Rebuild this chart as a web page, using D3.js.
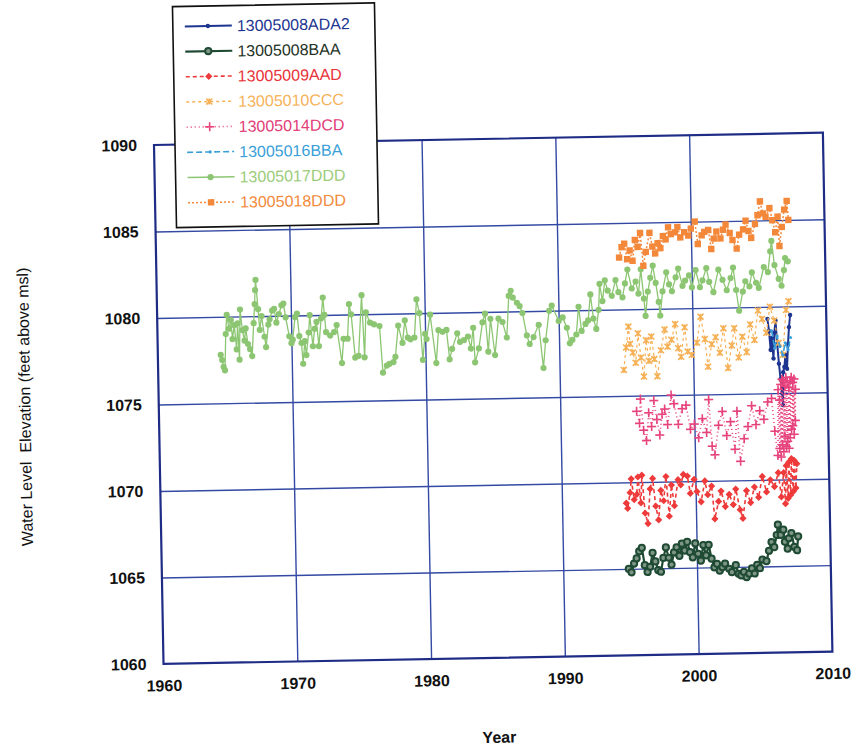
<!DOCTYPE html>
<html>
<head>
<meta charset="utf-8">
<script src="https://cdn.jsdelivr.net/npm/d3@7"></script>
<style>
  body { margin: 0; background: #fff; }
  text { font-family: "Liberation Sans", Arial, sans-serif; }
</style>
</head>
<body>
<script>
var svgWidth = 857;
var svgHeight = 749;

// the scanned page is slightly tilted, so the whole chart is rotated a little
var margin = { top: 145, left: 154 };
var chartWidth = 669;
var chartHeight = 519;
var tilt = -1.05;

var xTicks = [1960, 1970, 1980, 1990, 2000, 2010];
var yTicks = [1060, 1065, 1070, 1075, 1080, 1085, 1090];

var wellNames = ["13005008ADA2", "13005008BAA", "13005009AAD", "13005010CCC",
                 "13005014DCD", "13005016BBA", "13005017DDD", "13005018DDD"];

// [year, water level]
var ada2 = [[2005.6,1079.3],[2005.7,1078.6],[2005.8,1077.5],[2005.9,1078.2],[2006.0,1077.0],[2006.1,1078.5],
  [2006.2,1079.2],[2006.3,1077.8],[2006.4,1076.7],[2006.5,1075.8],[2006.6,1075.0],[2006.65,1074.3],
  [2006.7,1076.2],[2006.8,1076.5],[2006.9,1077.2],[2007.0,1076.4],[2007.1,1077.8],[2007.2,1078.8],[2007.3,1079.5]];

var baa = [[1994.9,1065.0],[1995.1,1064.8],[1995.3,1065.3],[1995.5,1065.6],[1995.7,1066.0],[1995.9,1066.2],
  [1996.1,1065.2],[1996.3,1064.8],[1996.5,1065.1],[1996.7,1065.9],[1996.9,1065.4],[1997.1,1064.9],
  [1997.3,1064.8],[1997.5,1065.6],[1997.7,1066.2],[1997.9,1065.6],[1998.1,1065.2],[1998.3,1065.9],
  [1998.5,1066.2],[1998.7,1065.7],[1998.9,1066.4],[1999.1,1066.0],[1999.3,1066.5],[1999.5,1065.9],
  [1999.7,1065.6],[1999.9,1066.4],[2000.1,1065.8],[2000.3,1065.4],[2000.5,1066.3],[2000.7,1065.7],
  [2000.9,1066.3],[2001.1,1065.5],[2001.3,1065.0],[2001.5,1065.2],[2001.7,1064.8],[2001.9,1065.0],
  [2002.1,1065.2],[2002.4,1064.9],[2002.6,1064.7],[2002.9,1065.1],[2003.1,1064.6],[2003.3,1064.5],
  [2003.5,1064.7],[2003.7,1064.4],[2003.9,1064.6],[2004.1,1064.9],[2004.3,1064.6],[2004.5,1065.1],
  [2004.7,1064.9],[2004.9,1065.4],[2005.2,1065.3],[2005.4,1065.9],[2005.6,1066.4],[2005.8,1066.1],
  [2006.0,1066.8],[2006.1,1067.4],[2006.3,1066.8],[2006.5,1067.1],[2006.6,1066.4],[2006.8,1066.0],
  [2006.9,1066.6],[2007.1,1066.9],[2007.3,1066.1],[2007.5,1065.9],[2007.6,1066.7]];

var aad = [[1994.8,1068.8],[1994.9,1068.5],[1995.1,1069.4],[1995.2,1070.2],[1995.4,1069.0],[1995.6,1069.3],
  [1995.7,1070.3],[1995.9,1068.8],[1996.0,1070.4],[1996.2,1068.2],[1996.4,1067.6],[1996.6,1069.6],
  [1996.8,1070.2],[1997.0,1068.6],[1997.2,1067.8],[1997.4,1069.5],[1997.6,1068.9],[1997.8,1070.3],
  [1998.0,1068.0],[1998.2,1069.8],[1998.4,1068.6],[1998.7,1070.1],[1998.9,1069.8],[1999.1,1070.4],
  [1999.4,1070.3],[1999.6,1069.3],[1999.9,1070.1],[2000.1,1069.4],[2000.4,1068.8],[2000.7,1070.0],
  [2000.9,1069.2],[2001.2,1069.7],[2001.4,1067.8],[2001.7,1068.8],[2001.9,1069.4],[2002.2,1068.5],
  [2002.5,1069.2],[2002.8,1068.6],[2003.0,1069.5],[2003.3,1068.3],[2003.5,1067.8],[2003.8,1069.4],
  [2004.1,1068.7],[2004.4,1069.6],[2004.7,1069.0],[2005.0,1070.2],[2005.3,1069.3],[2005.6,1070.0],
  [2005.9,1069.6],[2006.2,1070.4],[2006.4,1069.0],[2006.6,1070.4],[2006.7,1068.6],[2006.8,1070.8],
  [2006.9,1068.9],[2007.0,1071.0],[2007.1,1069.1],[2007.2,1071.2],[2007.3,1069.3],[2007.4,1071.1],
  [2007.5,1069.5],[2007.6,1070.9]];

var ccc = [[1994.8,1076.5],[1995.0,1077.8],[1995.2,1079.0],[1995.3,1078.0],[1995.5,1077.5],[1995.7,1076.9],
  [1995.9,1078.6],[1996.1,1077.2],[1996.3,1076.1],[1996.5,1078.2],[1996.7,1077.0],[1996.9,1078.4],
  [1997.1,1077.1],[1997.3,1076.1],[1997.6,1077.6],[1997.9,1078.8],[1998.1,1077.8],[1998.4,1078.2],
  [1998.7,1079.1],[1998.9,1077.7],[1999.1,1077.2],[1999.4,1078.9],[1999.6,1077.5],[1999.9,1077.3],
  [2000.3,1078.0],[2000.6,1079.5],[2000.9,1078.2],[2001.1,1076.6],[2001.4,1077.9],[2001.7,1078.3],
  [2002.0,1077.4],[2002.3,1078.8],[2002.6,1076.5],[2002.9,1077.8],[2003.1,1078.8],[2003.4,1077.1],
  [2003.7,1078.3],[2004.0,1077.4],[2004.3,1079.0],[2004.6,1078.1],[2004.9,1079.8],[2005.2,1079.3],
  [2005.5,1078.5],[2005.8,1080.0],[2006.1,1079.2],[2006.4,1077.9],[2006.7,1077.2],[2007.0,1079.8],[2007.2,1080.3]];

var dcd = [[1995.7,1074.1],[1995.9,1073.4],[1996.0,1074.8],[1996.2,1073.0],[1996.4,1072.4],[1996.6,1074.0],
  [1996.8,1073.2],[1997.0,1074.7],[1997.2,1073.6],[1997.4,1072.7],[1997.6,1073.9],[1997.8,1074.2],
  [1998.0,1073.3],[1998.3,1075.0],[1998.5,1074.5],[1998.8,1073.3],[1999.1,1074.2],[1999.4,1074.4],
  [1999.7,1073.0],[2000.0,1073.3],[2000.3,1072.5],[2000.6,1073.6],[2000.9,1072.8],[2001.1,1074.7],
  [2001.3,1072.0],[2001.5,1071.5],[2001.8,1073.2],[2002.1,1074.0],[2002.4,1072.6],[2002.7,1073.4],
  [2003.0,1071.8],[2003.2,1074.0],[2003.4,1071.1],[2003.7,1072.4],[2004.0,1073.1],[2004.3,1074.3],
  [2004.6,1073.2],[2004.9,1074.0],[2005.2,1073.5],[2005.5,1074.5],[2005.8,1074.7],[2006.0,1072.8],
  [2006.2,1071.4],[2006.3,1075.2],[2006.35,1071.8],[2006.4,1074.6],[2006.45,1071.3],[2006.5,1075.5],
  [2006.55,1072.0],[2006.6,1075.8],[2006.65,1071.6],[2006.7,1075.7],[2006.75,1072.5],[2006.8,1075.4],
  [2006.85,1071.9],[2006.9,1075.9],[2006.95,1072.2],[2007.0,1075.6],[2007.05,1071.8],[2007.1,1075.3],
  [2007.15,1072.4],[2007.2,1075.7],[2007.25,1072.9],[2007.3,1075.9],[2007.35,1073.1],[2007.4,1075.6],
  [2007.45,1072.6],[2007.5,1075.8],[2007.55,1073.4],[2007.6,1075.2]];

var bba = [[2005.9,1078.6],[2006.1,1077.6],[2006.3,1078.3],[2006.5,1077.7],[2006.7,1077.2],
  [2006.9,1077.9],[2007.1,1077.5],[2007.3,1078.2]];

var ddd17 = [[1964.7,1077.8],[1964.8,1077.5],[1964.9,1077.1],[1965.0,1076.9],[1965.1,1079.0],[1965.2,1080.1],
  [1965.35,1079.3],[1965.5,1079.8],[1965.6,1078.7],[1965.75,1079.5],[1965.9,1078.1],[1966.0,1079.6],
  [1966.1,1077.5],[1966.2,1080.4],[1966.35,1079.2],[1966.5,1078.6],[1966.6,1079.3],[1966.75,1078.4],
  [1966.9,1078.1],[1967.05,1077.7],[1967.2,1079.6],[1967.3,1080.7],[1967.35,1081.5],[1967.4,1082.1],
  [1967.55,1080.4],[1967.65,1079.2],[1967.8,1080.0],[1968.0,1078.8],[1968.1,1078.2],[1968.3,1079.5],
  [1968.4,1079.8],[1968.6,1080.3],[1968.75,1080.4],[1968.9,1079.6],[1969.1,1080.1],[1969.3,1080.6],
  [1969.45,1080.7],[1969.6,1079.9],[1969.85,1078.8],[1970.0,1078.4],[1970.1,1078.6],[1970.3,1079.9],
  [1970.45,1080.1],[1970.6,1078.8],[1970.75,1078.4],[1970.85,1077.2],[1971.0,1078.5],[1971.1,1077.7],
  [1971.3,1079.0],[1971.4,1080.0],[1971.6,1078.2],[1971.75,1079.2],[1971.9,1079.6],[1972.05,1078.2],
  [1972.25,1079.8],[1972.4,1081.0],[1972.5,1080.0],[1972.6,1079.0],[1972.9,1078.8],[1973.2,1079.0],
  [1973.4,1079.4],[1973.75,1077.2],[1973.9,1078.6],[1974.2,1078.6],[1974.35,1080.6],[1974.5,1080.0],
  [1974.75,1077.5],[1975.0,1077.6],[1975.3,1081.1],[1975.45,1077.5],[1975.6,1080.1],[1975.9,1079.5],
  [1976.2,1079.4],[1976.6,1079.3],[1976.8,1076.6],[1977.1,1077.0],[1977.3,1077.1],[1977.6,1077.2],
  [1977.75,1077.5],[1978.0,1079.3],[1978.3,1078.3],[1978.5,1079.6],[1978.7,1078.6],[1978.9,1078.5],
  [1979.2,1078.6],[1979.4,1080.8],[1979.6,1080.0],[1979.8,1077.3],[1980.0,1078.8],[1980.1,1078.5],
  [1980.4,1079.9],[1980.8,1077.1],[1981.0,1079.0],[1981.3,1078.9],[1981.6,1079.0],[1981.8,1077.3],
  [1982.0,1077.9],[1982.4,1078.8],[1982.6,1078.3],[1982.9,1078.4],[1983.2,1078.6],[1983.4,1077.9],
  [1983.6,1079.1],[1983.7,1077.1],[1984.0,1077.9],[1984.3,1079.4],[1984.5,1079.9],[1984.7,1077.7],
  [1984.9,1079.6],[1985.2,1077.5],[1985.5,1079.6],[1985.8,1079.4],[1986.1,1078.5],[1986.3,1080.9],
  [1986.45,1081.2],[1986.6,1080.8],[1986.9,1080.5],[1987.1,1080.3],[1987.3,1079.9],[1987.6,1078.6],
  [1987.8,1078.1],[1988.1,1078.5],[1988.5,1079.2],[1988.8,1076.7],[1989.0,1078.3],[1989.3,1080.0],
  [1989.5,1080.3],[1990.0,1079.4],[1990.3,1079.6],[1990.6,1079.0],[1990.8,1078.1],[1991.0,1078.3],
  [1991.3,1078.6],[1991.5,1080.2],[1991.7,1078.8],[1992.0,1079.2],[1992.2,1079.4],[1992.4,1080.9],
  [1992.6,1079.5],[1992.8,1078.9],[1993.0,1080.0],[1993.1,1081.5],[1993.3,1080.5],[1993.5,1081.7],
  [1993.7,1081.1],[1994.0,1080.8],[1994.3,1081.7],[1994.5,1081.0],[1994.8,1080.7],[1995.0,1081.5],
  [1995.2,1082.3],[1995.5,1081.2],[1995.8,1081.6],[1996.0,1080.9],[1996.2,1082.3],[1996.4,1080.6],
  [1996.5,1079.6],[1996.7,1081.0],[1996.9,1081.8],[1997.1,1082.5],[1997.3,1081.5],[1997.5,1080.4],
  [1997.6,1079.6],[1997.8,1081.0],[1998.1,1082.1],[1998.3,1081.4],[1998.5,1081.0],[1998.8,1081.8],
  [1999.0,1082.3],[1999.3,1081.3],[1999.5,1081.6],[1999.8,1081.9],[2000.0,1081.2],[2000.3,1082.2],
  [2000.6,1081.2],[2000.8,1081.6],[2001.1,1082.3],[2001.3,1081.5],[2001.6,1080.9],[2002.0,1082.2],
  [2002.3,1081.6],[2002.6,1081.0],[2002.9,1081.7],[2003.1,1082.3],[2003.3,1081.0],[2003.5,1079.8],
  [2003.8,1080.9],[2004.0,1081.5],[2004.3,1081.2],[2004.5,1082.0],[2004.8,1081.4],[2005.0,1081.1],
  [2005.4,1082.3],[2005.7,1082.0],[2005.9,1083.2],[2006.0,1083.8],[2006.2,1082.4],[2006.5,1081.6],
  [2006.7,1081.2],[2006.9,1082.1],[2007.0,1082.8],[2007.2,1082.6]];

var ddd18 = [[1994.6,1083.0],[1994.8,1083.6],[1995.0,1083.8],[1995.2,1082.9],[1995.4,1083.4],[1995.6,1082.8],
  [1995.8,1084.0],[1996.0,1083.6],[1996.2,1084.4],[1996.4,1082.5],[1996.6,1083.3],[1996.9,1084.4],
  [1997.1,1083.6],[1997.3,1083.2],[1997.5,1083.8],[1997.7,1083.5],[1997.9,1084.2],[1998.1,1084.0],
  [1998.3,1084.7],[1998.5,1084.3],[1998.8,1084.4],[1999.0,1084.7],[1999.2,1084.1],[1999.5,1084.4],
  [1999.8,1084.2],[2000.0,1084.6],[2000.3,1085.0],[2000.5,1083.7],[2000.8,1084.2],[2001.0,1084.4],
  [2001.3,1084.5],[2001.5,1083.4],[2001.7,1084.0],[2001.9,1084.4],[2002.2,1084.0],[2002.4,1084.5],
  [2002.6,1084.8],[2002.9,1084.3],[2003.1,1083.9],[2003.4,1083.4],[2003.6,1084.2],[2003.9,1084.5],
  [2004.1,1085.0],[2004.3,1084.4],[2004.5,1084.0],[2004.8,1084.8],[2005.0,1085.3],[2005.2,1086.1],
  [2005.4,1085.4],[2005.6,1085.2],[2005.9,1085.7],[2006.1,1085.0],[2006.3,1084.3],[2006.5,1085.2],
  [2006.6,1083.5],[2006.8,1084.6],[2007.0,1085.6],[2007.2,1086.1],[2007.3,1085.0]];

// style per well, in legend order
var series = [
  { name: wellNames[0], data: ada2,  color: "#1d3590", text: "#1d3590", dash: null,  width: 2,   symbol: "dot",     size: 2.2 },
  { name: wellNames[1], data: baa,   color: "#1f4a33", text: "#1f3326", dash: null,  width: 2.2, symbol: "ring",    size: 3.1 },
  { name: wellNames[2], data: aad,   color: "#ee3a3a", text: "#e8333a", dash: "4,3", width: 1.6, symbol: "diamond", size: 3.6 },
  { name: wellNames[3], data: ccc,   color: "#f6b157", text: "#f5b35a", dash: "3,3", width: 1.2, symbol: "times",   size: 3   },
  { name: wellNames[4], data: dcd,   color: "#e6427c", text: "#e23d78", dash: "1,3", width: 1.6, symbol: "plus",    size: 4.5 },
  { name: wellNames[5], data: bba,   color: "#3a9fd8", text: "#3a9fd8", dash: "6,3", width: 1.6, symbol: "dot",     size: 1.6 },
  { name: wellNames[6], data: ddd17, color: "#8cc672", text: "#9ccc7a", dash: null,  width: 1.3, symbol: "dot",     size: 3.1 },
  { name: wellNames[7], data: ddd18, color: "#f4883a", text: "#f28a3c", dash: "2,2", width: 1.5, symbol: "square",  size: 3.2 }
];

var svg = d3.select("body")
  .append("svg")
  .attr("width", svgWidth)
  .attr("height", svgHeight);

var chartGroup = svg.append("g")
  .attr("transform", `translate(${margin.left}, ${margin.top}) rotate(${tilt})`);

var xScale = d3.scaleLinear().domain([1960, 2010]).range([0, chartWidth]);
var yScale = d3.scaleLinear().domain([1060, 1090]).range([chartHeight, 0]);

// grid
var gridColor = "#3349a3";
chartGroup.append("g")
  .attr("transform", `translate(0, ${chartHeight})`)
  .call(d3.axisBottom(xScale).tickValues(xTicks.slice(1, -1)).tickSize(-chartHeight).tickFormat(""))
  .call(g => g.select(".domain").remove())
  .call(g => g.selectAll("line").attr("stroke", gridColor).attr("stroke-width", 1.4));
chartGroup.append("g")
  .call(d3.axisLeft(yScale).tickValues(yTicks.slice(1, -1)).tickSize(-chartWidth).tickFormat(""))
  .call(g => g.select(".domain").remove())
  .call(g => g.selectAll("line").attr("stroke", gridColor).attr("stroke-width", 1.4));

chartGroup.append("rect")
  .attr("width", chartWidth)
  .attr("height", chartHeight)
  .attr("fill", "none")
  .attr("stroke", "#1e2c85")
  .attr("stroke-width", 2.2);

// tick labels
chartGroup.append("g")
  .attr("transform", `translate(0, ${chartHeight})`)
  .call(d3.axisBottom(xScale).tickValues(xTicks).tickSize(0).tickPadding(16).tickFormat(d3.format("d")))
  .call(g => g.select(".domain").remove())
  .selectAll("text")
  .attr("font-family", "Liberation Sans, Arial, sans-serif")
  .attr("font-size", 16)
  .attr("font-weight", "bold")
  .attr("fill", "#111");
chartGroup.append("g")
  .call(d3.axisLeft(yScale).tickValues(yTicks).tickSize(0).tickPadding(17).tickFormat(d3.format("d")))
  .call(g => g.select(".domain").remove())
  .selectAll("text")
  .attr("font-family", "Liberation Sans, Arial, sans-serif")
  .attr("font-size", 16)
  .attr("font-weight", "bold")
  .attr("fill", "#111");

// axis titles
chartGroup.append("text")
  .attr("x", chartWidth / 2)
  .attr("y", chartHeight + 85)
  .attr("text-anchor", "middle")
  .attr("font-size", 16)
  .attr("font-weight", "bold")
  .attr("fill", "#111")
  .text("Year");
chartGroup.append("text")
  .attr("transform", `translate(-134, ${chartHeight / 2}) rotate(-90)`)
  .attr("text-anchor", "middle")
  .attr("dy", "0.35em")
  .attr("font-size", 16)
  .attr("fill", "#111")
  .style("white-space", "pre")
  .text("Water Level  Elevation (feet above msl)");

function drawMarker(sel, s) {
  var r = s.size;
  if (s.symbol === "dot") {
    sel.append("circle").attr("r", r).attr("fill", s.color);
  } else if (s.symbol === "ring") {
    sel.append("circle").attr("r", r).attr("fill", "#7d9686").attr("stroke", s.color).attr("stroke-width", 2);
  } else if (s.symbol === "diamond") {
    sel.append("path").attr("d", `M0,${-r}L${r},0L0,${r}L${-r},0Z`).attr("fill", s.color);
  } else if (s.symbol === "square") {
    sel.append("rect").attr("x", -r).attr("y", -r).attr("width", 2 * r).attr("height", 2 * r).attr("fill", s.color);
  } else if (s.symbol === "plus") {
    sel.append("path").attr("d", `M${-r},0H${r}M0,${-r}V${r}`).attr("stroke", s.color).attr("stroke-width", 1.6);
  } else if (s.symbol === "times") {
    sel.append("path").attr("d", `M${-r},${-r}L${r},${r}M${-r},${r}L${r},${-r}M0,${-r}V${r}`)
      .attr("stroke", s.color).attr("stroke-width", 1.6);
  }
}

var line = d3.line()
  .x(d => xScale(d[0]))
  .y(d => yScale(d[1]));

series.forEach(function(s) {
  var g = chartGroup.append("g");
  g.append("path")
    .datum(s.data)
    .attr("d", line)
    .attr("fill", "none")
    .attr("stroke", s.color)
    .attr("stroke-width", s.width)
    .attr("stroke-dasharray", s.dash);
  g.selectAll("g.pt")
    .data(s.data)
    .enter()
    .append("g")
    .attr("class", "pt")
    .attr("transform", d => `translate(${xScale(d[0])}, ${yScale(d[1])})`)
    .each(function() { drawMarker(d3.select(this), s); });
});

// legend
var legend = chartGroup.append("g")
  .attr("transform", "translate(21, -138)");
legend.append("rect")
  .attr("width", 202)
  .attr("height", 221)
  .attr("fill", "#fff")
  .attr("stroke", "#111")
  .attr("stroke-width", 1.6);

var rows = legend.selectAll("g.row")
  .data(series)
  .enter()
  .append("g")
  .attr("class", "row")
  .attr("transform", (d, i) => `translate(0, ${20 + i * 25.2})`);
rows.append("line")
  .attr("x1", 12).attr("x2", 59)
  .attr("stroke", d => d.color)
  .attr("stroke-width", d => Math.max(d.width, 1.5))
  .attr("stroke-dasharray", d => d.dash);
rows.append("g")
  .attr("transform", "translate(35, 0)")
  .each(function(d) { drawMarker(d3.select(this), d); });
rows.append("text")
  .attr("x", 64)
  .attr("dy", "0.36em")
  .attr("font-size", 16)
  .attr("fill", d => d.text)
  .text(d => d.name);
</script>
</body>
</html>
